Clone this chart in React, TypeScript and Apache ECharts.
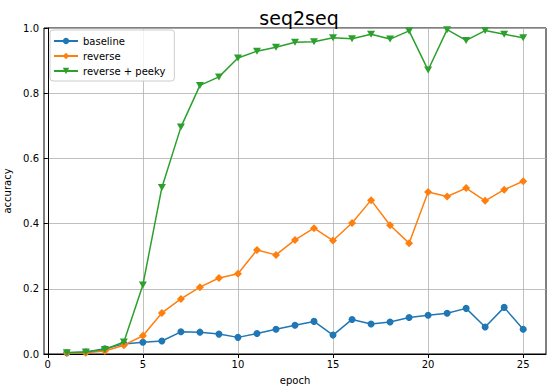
import React, { useEffect, useRef } from "react";
import * as echarts from "echarts";

const epochs = [1, 2, 3, 4, 5, 6, 7, 8, 9, 10, 11, 12, 13, 14, 15, 16, 17, 18, 19, 20, 21, 22, 23, 24, 25];
const baseline = [0.004, 0.006, 0.016, 0.031, 0.036, 0.040, 0.068, 0.067, 0.061, 0.051, 0.063, 0.076, 0.088, 0.100, 0.058, 0.106, 0.092, 0.098, 0.112, 0.119, 0.125, 0.140, 0.083, 0.143, 0.076];
const reverse = [0.003, 0.004, 0.009, 0.027, 0.056, 0.126, 0.169, 0.205, 0.233, 0.246, 0.319, 0.304, 0.350, 0.386, 0.348, 0.402, 0.472, 0.395, 0.340, 0.497, 0.483, 0.509, 0.470, 0.504, 0.530];
const peeky = [0.004, 0.006, 0.014, 0.037, 0.212, 0.511, 0.696, 0.824, 0.850, 0.908, 0.929, 0.941, 0.956, 0.958, 0.970, 0.967, 0.981, 0.966, 0.991, 0.871, 0.995, 0.962, 0.992, 0.981, 0.970];
const xTicks = [0, 5, 10, 15, 20, 25];

const FONT = "DejaVu Sans";

export default function App() {
  const ref = useRef<HTMLDivElement>(null);
  useEffect(() => {
    if (!ref.current) return;
    const chart = echarts.init(ref.current, undefined, { renderer: "svg" });
    const mk = (vals: number[]) => epochs.map((e, i) => [e, vals[i]]);
    chart.setOption({
      animation: false,
      backgroundColor: "#fff",
      textStyle: { fontFamily: FONT },
      title: {
        text: "seq2seq",
        left: 294,
        textAlign: "center",
        top: 3,
        textStyle: { fontFamily: FONT, fontSize: 19, fontWeight: "normal", color: "#000" },
      },
      grid: {
        left: 44,
        right: 7,
        top: 28,
        bottom: 38,
        containLabel: false,
        outerBoundsMode: "none",
        show: true,
        borderColor: "#000",
        borderWidth: 1,
        backgroundColor: "transparent",
      },
      legend: {
        left: 50,
        top: 30,
        orient: "vertical",
        itemGap: 3,
        itemWidth: 24,
        itemHeight: 8,
        padding: [5, 9, 4, 3],
        borderColor: "#ccc",
        borderWidth: 1,
        borderRadius: 3,
        backgroundColor: "rgba(255,255,255,0.8)",
        textStyle: { fontFamily: FONT, fontSize: 10, color: "#000", lineHeight: 12 },
        data: ["baseline", "reverse", "reverse + peeky"],
      },
      xAxis: {
        type: "value",
        min: -0.2,
        max: 26.2,
        name: "epoch",
        nameLocation: "middle",
        nameGap: 21,
        nameTextStyle: { fontFamily: FONT, fontSize: 10, color: "#000" },
        axisLine: { show: true, lineStyle: { color: "#000" } },
        axisTick: { show: true, length: 4, customValues: xTicks, lineStyle: { color: "#000" } },
        axisLabel: { customValues: xTicks, fontFamily: FONT, fontSize: 10, color: "#000", margin: 5 },
        splitLine: { show: true, lineStyle: { color: "#b0b0b0", width: 0.8 } },
      },
      yAxis: {
        type: "value",
        min: 0,
        max: 1,
        interval: 0.2,
        name: "accuracy",
        nameLocation: "middle",
        nameGap: 32,
        nameRotate: 90,
        nameTextStyle: { fontFamily: FONT, fontSize: 10, color: "#000" },
        axisLine: { show: true, lineStyle: { color: "#000" } },
        axisTick: { show: true, length: 4, lineStyle: { color: "#000" } },
        axisLabel: { fontFamily: FONT, fontSize: 10, color: "#000", margin: 5, formatter: (v: number) => v.toFixed(1) },
        splitLine: { show: true, lineStyle: { color: "#b0b0b0", width: 0.8 } },
      },
      series: [
        {
          name: "baseline",
          type: "line",
          data: mk(baseline),
          symbol: "circle",
          symbolSize: 7,
          showAllSymbol: true,
          itemStyle: { color: "#1f77b4" },
          lineStyle: { color: "#1f77b4", width: 1.5 },
          z: 2,
        },
        {
          name: "reverse",
          type: "line",
          data: mk(reverse),
          symbol: "diamond",
          symbolSize: 8,
          showAllSymbol: true,
          itemStyle: { color: "#ff7f0e" },
          lineStyle: { color: "#ff7f0e", width: 1.5 },
          z: 3,
        },
        {
          name: "reverse + peeky",
          type: "line",
          data: mk(peeky),
          symbol: "triangle",
          symbolRotate: 180,
          symbolSize: [8, 7],
          showAllSymbol: true,
          itemStyle: { color: "#2ca02c" },
          lineStyle: { color: "#2ca02c", width: 1.5 },
          z: 4,
        },
      ],
    });
    return () => chart.dispose();
  }, []);
  return <div ref={ref} style={{ position: "fixed", left: 0, top: 0, width: 553, height: 392 }} />;
}
